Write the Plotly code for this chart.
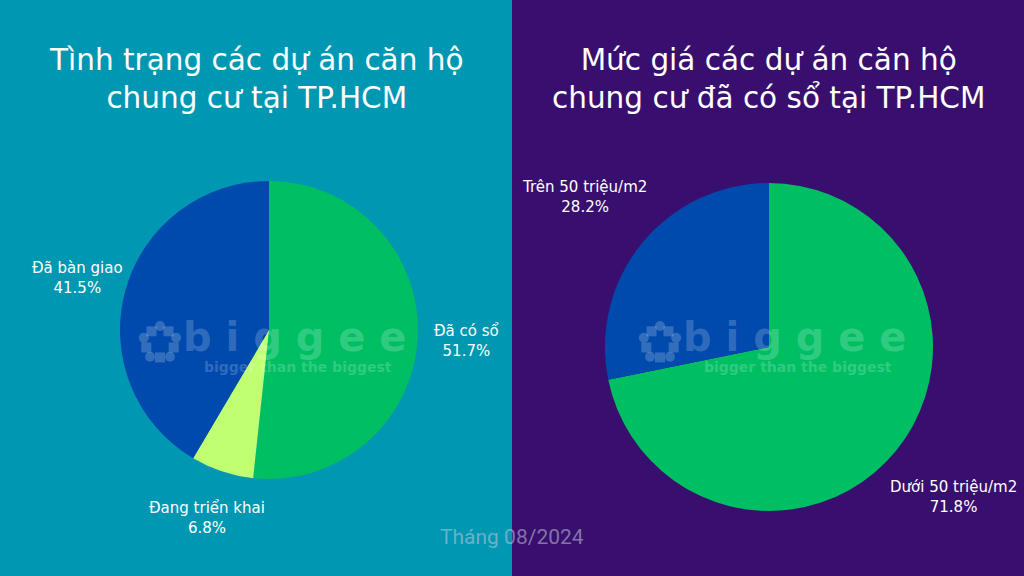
import plotly.graph_objects as go
import math

# ---- data ----
left_labels = ["Đã có sổ", "Đang triển khai", "Đã bàn giao"]
left_values = [51.7, 6.8, 41.5]
left_colors = ["#00bf63", "#c1ff72", "#004aad"]

right_labels = ["Dưới 50 triệu/m2", "Trên 50 triệu/m2"]
right_values = [71.8, 28.2]
right_colors = ["#00bf63", "#004aad"]

left_title = "Tình trạng các dự án căn hộ<br>chung cư tại TP.HCM"
right_title = "Mức giá các dự án căn hộ<br>chung cư đã có sổ tại TP.HCM"
footer = "Tháng 08/2024"

W, H = 1024, 576
LEFT_BG = "#0097b2"
RIGHT_BG = "#380f6e"
TITLE_FONT = "DejaVu Sans, sans-serif"
LABEL_FONT = "DejaVu Sans, sans-serif"

fig = go.Figure()

annotations = []


def dom(cx, cy, r):
    return dict(x=[(cx - r) / W, (cx + r) / W], y=[1 - (cy + r) / H, 1 - (cy - r) / H])


def add_pie(labels, values, colors, cx, cy, r, label_k):
    fig.add_trace(go.Pie(
        labels=labels, values=values, sort=False, direction="clockwise",
        rotation=0, marker=dict(colors=colors, line=dict(width=0)),
        textinfo="none", domain=dom(cx, cy, r), showlegend=False,
        hoverinfo="label+percent",
    ))
    total = sum(values)
    cum = 0.0
    for lab, v in zip(labels, values):
        mid = (cum + v / 2) / total * 2 * math.pi
        cum += v
        dx, dy = math.sin(mid), math.cos(mid)
        px = cx + dx * r * label_k
        py = cy - dy * r * label_k
        annotations.append(dict(
            text=f"{lab}<br>{v / total * 100:.1f}%", x=px / W, y=1 - py / H,
            xref="paper", yref="paper", showarrow=False,
            xanchor="center", yanchor="middle", align="center",
            font=dict(color="white", size=15, family=LABEL_FONT)))


add_pie(left_labels, left_values, left_colors, 269, 330, 149, 1.33)
add_pie(right_labels, right_values, right_colors, 769, 347, 164, 1.45)

shapes = [
    dict(type="rect", xref="paper", yref="paper", x0=0, x1=0.5, y0=0, y1=1,
         fillcolor=LEFT_BG, line=dict(width=0), layer="below"),
    dict(type="rect", xref="paper", yref="paper", x0=0.5, x1=1, y0=0, y1=1,
         fillcolor=RIGHT_BG, line=dict(width=0), layer="below"),
]

annotations += [
    dict(text=left_title, x=256 / W, y=1 - 79 / H, xref="paper", yref="paper",
         showarrow=False, xanchor="center", yanchor="middle",
         font=dict(color="white", size=29.5, family=TITLE_FONT)),
    dict(text=right_title, x=768 / W, y=1 - 79 / H, xref="paper", yref="paper",
         showarrow=False, xanchor="center", yanchor="middle",
         font=dict(color="white", size=29.5, family=TITLE_FONT)),
    dict(text=footer, x=512 / W, y=1 - 537 / H, xref="paper", yref="paper",
         showarrow=False, xanchor="center", yanchor="middle",
         font=dict(color="rgba(200,200,220,0.55)", size=21, family="Roboto")),
]

# watermark (semi-transparent logo + text) on both panels
WM = "rgba(255,255,255,0.2)"
for ox in (0, 500):
    annotations.append(dict(text="<b>b i g g e e</b>", x=(295 + ox) / W, y=1 - 337 / H,
                            xref="paper", yref="paper", showarrow=False,
                            xanchor="center", yanchor="middle",
                            font=dict(color=WM, size=40, family="DejaVu Sans")))
    annotations.append(dict(text="<b>bigger than the biggest</b>", x=(298 + ox) / W, y=1 - 367 / H,
                            xref="paper", yref="paper", showarrow=False,
                            xanchor="center", yanchor="middle",
                            font=dict(color=WM, size=14, family="DejaVu Sans")))
    # logo: ring of small blobs
    cx, cy, rr = 160 + ox, 343, 17
    for k in range(5):
        a = math.radians(90 + 72 * k)
        px, py = cx + rr * math.cos(a), cy - rr * math.sin(a)
        shapes.append(dict(type="circle", xref="paper", yref="paper",
                           x0=(px - 5) / W, x1=(px + 5) / W,
                           y0=1 - (py + 5) / H, y1=1 - (py - 5) / H,
                           fillcolor=WM, line=dict(width=0), layer="above"))
        a2 = math.radians(90 + 72 * k + 36)
        qx, qy = cx + rr * 0.85 * math.cos(a2), cy - rr * 0.85 * math.sin(a2)
        shapes.append(dict(type="rect", xref="paper", yref="paper",
                           x0=(qx - 5) / W, x1=(qx + 5) / W,
                           y0=1 - (qy + 5) / H, y1=1 - (qy - 5) / H,
                           fillcolor=WM, line=dict(width=0), layer="above"))

fig.update_layout(
    width=W, height=H, margin=dict(l=0, r=0, t=0, b=0),
    paper_bgcolor=LEFT_BG, plot_bgcolor=LEFT_BG,
    shapes=shapes, annotations=annotations,
)

fig.write_html("out.html", config={"displayModeBar": False},
               post_script="document.body.style.margin='0';document.body.style.overflow='hidden';")
